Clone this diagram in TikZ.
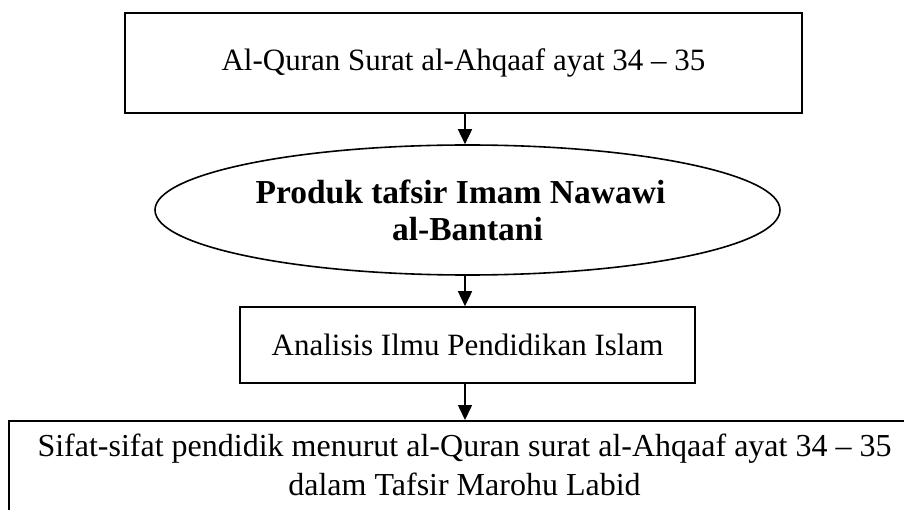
\documentclass[tikz,border=0pt]{standalone}
\usepackage{fontspec}
\setmainfont{Liberation Serif}
\usetikzlibrary{arrows.meta,shapes.geometric}
\begin{document}
\begin{tikzpicture}[x=1pt,y=-1pt,
  every node/.style={font=\fontsize{31}{37}\selectfont, inner sep=0pt},
  box/.style={draw, line width=1.6pt, rectangle},
  oval/.style={draw, line width=1.6pt, ellipse},
  arr/.style={line width=1.6pt, -{Triangle[length=15pt,width=14pt]}}]
\clip (0,0) rectangle (904,510);
\fill[white] (0,0) rectangle (904,510);
\node[box, minimum width=677pt, minimum height=100pt] (a) at (463.5,63) {Al-Quran Surat al-Ahqaaf ayat 34 – 35};
\node[oval, minimum width=625pt, minimum height=130pt, align=center, font=\fontsize{33.5}{37}\selectfont\bfseries] (b) at (467.5,210) {Produk tafsir Imam Nawawi\rule{14pt}{0pt}\\al-Bantani};
\node[box, minimum width=455pt, minimum height=76pt] (c) at (467.5,345) {Analisis Ilmu Pendidikan Islam};
\node[box, anchor=north, minimum width=911pt, text height=36pt, text depth=74pt, font=\fontsize{32}{37}\selectfont] (d) at (464.5,420) {\begin{tabular}[t]{@{}c@{}}Sifat-sifat pendidik menurut al-Quran surat al-Ahqaaf ayat 34 – 35\\[2pt] dalam Tafsir Marohu Labid\end{tabular}};
\draw[arr] (a.south -| 465,0) -- (b.north -| 465,0);
\draw[arr] (b.south -| 465,0) -- (c.north -| 465,0);
\draw[arr] (c.south -| 465,0) -- (d.north -| 465,0);
\end{tikzpicture}
\end{document}
